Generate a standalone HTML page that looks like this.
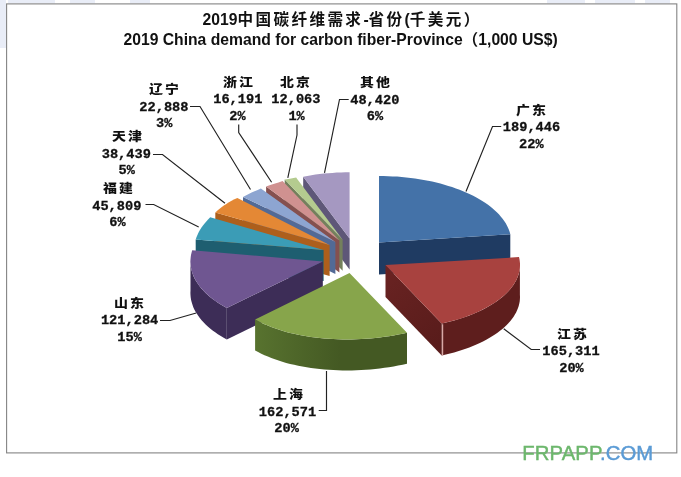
<!DOCTYPE html>
<html lang="zh"><head><meta charset="utf-8"><title>2019中国碳纤维需求-省份</title>
<style>
html,body{margin:0;padding:0;background:#fff;}
body{width:681px;height:477px;position:relative;overflow:hidden;font-family:"Liberation Sans","Noto Sans CJK SC",sans-serif;color:#111;}
#frame{display:none;}
svg{position:absolute;left:0;top:0;}
.t{position:absolute;white-space:nowrap;font-weight:bold;line-height:1;}
#t1{left:202.5px;top:12px;font-size:15.7px;}
#t1 .cj{font-size:15.6px;letter-spacing:2.4px;}
#t2{left:123.5px;top:32.2px;font-size:15.7px;}
.lb{position:absolute;width:100px;height:20px;line-height:20px;text-align:center;font-weight:bold;white-space:nowrap;}
.n{font-family:"Liberation Sans","Noto Sans CJK SC",sans-serif;font-weight:900;font-size:12.1px;letter-spacing:1.7px;text-indent:1.7px;transform:scaleX(1.15);}
.v,.p{font-family:"Liberation Mono","Noto Sans CJK SC",monospace;font-size:13.67px;-webkit-text-stroke:0.3px #111;}
#wm{position:absolute;left:522.3px;top:441.1px;font-size:20.3px;line-height:24px;white-space:nowrap;letter-spacing:0.1px;-webkit-text-stroke:0.45px currentColor;}
#wm .g{color:#6db76d;-webkit-text-stroke-color:#6db76d;} #wm .b{color:#5b9bd5;-webkit-text-stroke-color:#5b9bd5;}
</style></head><body>
<div id="frame"></div>
<svg width="681" height="477" viewBox="0 0 681 477">
<defs><linearGradient id="gw" gradientUnits="userSpaceOnUse" x1="254" y1="0" x2="340" y2="0"><stop offset="0" stop-color="#58732F"/><stop offset="1" stop-color="#445923"/></linearGradient><linearGradient id="rw" gradientUnits="userSpaceOnUse" x1="386" y1="270" x2="442" y2="340"><stop offset="0" stop-color="#692322"/><stop offset="1" stop-color="#591C1B"/></linearGradient></defs>
<g fill="#E9EDF7"><rect x="0" y="0" width="6" height="48"/><rect x="8" y="0" width="47" height="3.3"/><rect x="70" y="0" width="25" height="3.3"/><rect x="130" y="0" width="20" height="3.3"/><rect x="547" y="0" width="38" height="3.3"/><rect x="595" y="0" width="40" height="3.3"/><rect x="645" y="0" width="25" height="3.3"/></g>
<rect x="6.6" y="3.9" width="670.2" height="449" fill="#fff" stroke="#848484" stroke-width="1.1"/>
<!-- 其他 -->
<polygon points="349.6,238.6 303.2,176.7 303.2,207.7 349.6,269.6" fill="#5E5778"/>
<polygon points="349.6,238.6 303.2,176.7 307.3,175.9 311.4,175.2 315.5,174.6 319.7,174.1 323.9,173.6 328.1,173.2 332.4,172.9 336.7,172.6 341.0,172.4 345.3,172.3 349.6,172.3" fill="#A598C1"/>
<!-- 北京 -->
<polygon points="342.6,239.8 284.7,179.6 284.7,210.6 342.6,270.8" fill="#74805C"/>
<polygon points="342.6,239.8 284.7,179.6 288.5,178.9 292.3,178.2 296.1,177.6" fill="#B4CB8F"/>
<!-- 浙江 -->
<polygon points="339.4,240.6 266.1,186.5 266.1,218.5 339.4,272.6" fill="#85504F"/>
<polygon points="339.4,240.6 266.1,186.5 270.2,185.1 274.3,183.7 278.5,182.4 282.6,181.1" fill="#D09190"/>
<!-- 辽宁 -->
<polygon points="335.4,242.1 243.0,197.0 243.0,229.0 335.4,274.1" fill="#526A96"/>
<polygon points="335.4,242.1 243.0,197.0 245.8,195.5 248.7,194.0 251.6,192.6 254.6,191.2 257.7,189.9 260.9,188.5" fill="#8DA5D1"/>
<!-- 天津 -->
<polygon points="329.6,245.1 215.3,212.5 215.3,243.5 329.6,276.1" fill="#AD5F1C"/>
<polygon points="329.6,245.1 215.3,212.5 217.2,210.7 219.3,208.9 221.5,207.2 223.9,205.5 226.3,203.9 228.9,202.3 231.6,200.8 234.4,199.3 237.4,197.9" fill="#E48835"/>
<!-- 广东 -->
<polygon points="379.0,242.5 510.3,234.3 510.3,266.3 379.0,274.5" fill="#1F3B62"/>
<polygon points="379.0,242.5 379.0,176.0 383.6,176.0 388.1,176.2 392.7,176.4 397.2,176.6 401.7,177.0 406.2,177.4 410.6,177.9 415.0,178.5 419.4,179.2 423.7,179.9 428.0,180.7 432.2,181.6 436.3,182.6 440.4,183.6 444.4,184.7 448.3,185.9 452.1,187.1 455.9,188.4 459.6,189.8 463.1,191.2 466.6,192.7 470.0,194.2 473.2,195.8 476.4,197.5 479.4,199.2 482.3,201.0 485.1,202.8 487.7,204.6 490.3,206.5 492.7,208.5 494.9,210.5 497.1,212.5 499.1,214.6 500.9,216.7 502.6,218.8 504.2,220.9 505.6,223.1 506.8,225.3 507.9,227.5 508.9,229.8 509.7,232.0 510.3,234.3" fill="#4472A8"/>
<!-- 福建 -->
<polygon points="323.6,250.1 195.7,239.5 195.7,270.5 323.6,281.1" fill="#1E5E70"/>
<polygon points="323.6,250.1 195.7,239.5 196.4,237.4 197.2,235.4 198.1,233.4 199.2,231.3 200.4,229.3 201.7,227.3 203.2,225.2 204.8,223.2 206.5,221.2 208.3,219.3 210.2,217.3" fill="#3B9CB6"/>
<!-- 山东 -->
<polygon points="322.8,261.5 226.8,308.0 226.8,339.5 322.8,293.0" fill="#3D2D57"/>
<polygon points="226.8,308.0 223.7,306.3 220.8,304.5 217.9,302.7 215.2,300.8 212.6,298.9 210.1,296.9 207.8,294.9 205.6,292.9 203.5,290.8 201.6,288.7 199.8,286.5 198.2,284.3 196.7,282.1 195.4,279.9 194.2,277.7 193.2,275.4 192.4,273.1 191.7,270.8 191.1,268.5 190.7,266.1 190.5,263.8 190.4,261.5 190.5,259.1 190.5,290.6 190.4,293.0 190.5,295.3 190.7,297.6 191.1,300.0 191.7,302.3 192.4,304.6 193.2,306.9 194.2,309.2 195.4,311.4 196.7,313.6 198.2,315.8 199.8,318.0 201.6,320.2 203.5,322.3 205.6,324.4 207.8,326.4 210.1,328.4 212.6,330.4 215.2,332.3 217.9,334.2 220.8,336.0 223.7,337.8 226.8,339.5" fill="#3D2D57"/>
<polygon points="322.8,261.5 226.8,308.0 223.8,306.3 220.8,304.5 218.0,302.7 215.3,300.9 212.7,299.0 210.2,297.0 207.9,295.0 205.7,293.0 203.7,290.9 201.7,288.8 200.0,286.7 198.3,284.5 196.9,282.3 195.5,280.1 194.4,277.9 193.3,275.6 192.5,273.4 191.7,271.1 191.2,268.8 190.8,266.5 190.5,264.2 190.4,261.8 190.5,259.5 190.7,257.2 191.0,254.9 191.6,252.6 192.2,250.3" fill="#6F5691"/>
<!-- 江苏 -->
<polygon points="385.5,265.0 441.7,323.6 441.7,355.6 385.5,297.0" fill="url(#rw)"/>
<polygon points="519.9,262.7 520.0,265.0 519.9,267.2 519.7,269.4 519.3,271.6 518.7,273.9 518.0,276.1 517.1,278.2 516.1,280.4 514.9,282.6 513.6,284.7 512.1,286.8 510.4,288.9 508.6,291.0 506.7,293.0 504.6,295.0 502.4,296.9 500.0,298.8 497.5,300.7 494.9,302.5 492.1,304.3 489.2,306.1 486.2,307.8 483.0,309.4 479.8,311.0 476.4,312.5 472.9,314.0 469.3,315.4 465.7,316.8 461.9,318.1 458.0,319.3 454.1,320.5 450.0,321.6 445.9,322.6 441.7,323.6 441.7,355.6 445.9,354.6 450.0,353.6 454.1,352.5 458.0,351.3 461.9,350.1 465.7,348.8 469.3,347.4 472.9,346.0 476.4,344.5 479.8,343.0 483.0,341.4 486.2,339.8 489.2,338.1 492.1,336.3 494.9,334.5 497.5,332.7 500.0,330.8 502.4,328.9 504.6,327.0 506.7,325.0 508.6,323.0 510.4,320.9 512.1,318.8 513.6,316.7 514.9,314.6 516.1,312.4 517.1,310.2 518.0,308.1 518.7,305.9 519.3,303.6 519.7,301.4 519.9,299.2 520.0,297.0 519.9,294.7" fill="#5E1E1D"/>
<polygon points="385.5,265.0 519.0,257.1 519.5,259.2 519.8,261.4 520.0,263.6 520.0,265.8 519.9,268.0 519.6,270.2 519.1,272.4 518.5,274.6 517.7,276.8 516.8,278.9 515.8,281.1 514.5,283.2 513.2,285.3 511.6,287.4 510.0,289.4 508.2,291.5 506.2,293.5 504.1,295.4 501.9,297.3 499.5,299.2 497.0,301.1 494.4,302.9 491.6,304.6 488.7,306.3 485.7,308.0 482.6,309.6 479.4,311.2 476.0,312.7 472.6,314.2 469.0,315.5 465.4,316.9 461.7,318.2 457.8,319.4 453.9,320.5 449.9,321.6 445.9,322.6 441.7,323.6" fill="#A8423F"/>
<!-- 上海 -->
<polygon points="407.0,332.8 402.6,333.7 398.1,334.6 393.6,335.4 389.0,336.2 384.5,336.8 379.8,337.4 375.2,337.9 370.5,338.4 365.9,338.7 361.2,339.0 356.5,339.2 351.8,339.4 347.2,339.4 342.5,339.4 337.9,339.3 333.3,339.1 328.8,338.8 324.3,338.5 319.8,338.0 315.3,337.5 311.0,336.9 306.7,336.3 302.4,335.5 298.2,334.7 294.1,333.8 290.1,332.9 286.2,331.9 282.3,330.8 278.6,329.6 274.9,328.3 271.3,327.0 267.9,325.6 264.5,324.2 261.3,322.7 258.1,321.1 255.1,319.5 255.1,350.5 258.1,352.1 261.3,353.7 264.5,355.2 267.9,356.6 271.3,358.0 274.9,359.3 278.6,360.6 282.3,361.8 286.2,362.9 290.1,363.9 294.1,364.8 298.2,365.7 302.4,366.5 306.7,367.3 311.0,367.9 315.3,368.5 319.8,369.0 324.3,369.5 328.8,369.8 333.3,370.1 337.9,370.3 342.5,370.4 347.2,370.4 351.8,370.4 356.5,370.2 361.2,370.0 365.9,369.7 370.5,369.4 375.2,368.9 379.8,368.4 384.5,367.8 389.0,367.2 393.6,366.4 398.1,365.6 402.6,364.7 407.0,363.8" fill="url(#gw)"/>
<polygon points="349.5,273.0 407.0,332.8 402.6,333.7 398.1,334.6 393.6,335.4 389.0,336.2 384.5,336.8 379.8,337.4 375.2,337.9 370.5,338.4 365.9,338.7 361.2,339.0 356.5,339.2 351.8,339.4 347.2,339.4 342.5,339.4 337.9,339.3 333.3,339.1 328.8,338.8 324.3,338.5 319.8,338.0 315.3,337.5 311.0,336.9 306.7,336.3 302.4,335.5 298.2,334.7 294.1,333.8 290.1,332.9 286.2,331.9 282.3,330.8 278.6,329.6 274.9,328.3 271.3,327.0 267.9,325.6 264.5,324.2 261.3,322.7 258.1,321.1 255.1,319.5" fill="#87A54B"/>
<line x1="442.6" y1="324.3" x2="442.6" y2="355.8" stroke="#D8A8A6" stroke-width="1.2"/>
<polyline points="190.0,106.5 200.0,106.5 250.5,189.5" fill="none" stroke="#222" stroke-width="1.15"/>
<polyline points="153.0,154.5 162.5,154.5 225.0,203.3" fill="none" stroke="#222" stroke-width="1.15"/>
<polyline points="238.7,124.5 238.7,132.5 271.6,182.2" fill="none" stroke="#222" stroke-width="1.15"/>
<polyline points="297.0,124.5 297.0,135.0 287.8,177.8" fill="none" stroke="#222" stroke-width="1.15"/>
<polyline points="348.7,99.5 339.5,99.5 324.5,172.8" fill="none" stroke="#222" stroke-width="1.15"/>
<polyline points="501.2,126.5 492.5,126.5 466.0,191.5" fill="none" stroke="#222" stroke-width="1.15"/>
<polyline points="145.5,204.5 153.7,204.5 198.7,227.0" fill="none" stroke="#222" stroke-width="1.15"/>
<polyline points="160.0,320.5 170.0,320.5 196.2,313.0" fill="none" stroke="#222" stroke-width="1.15"/>
<polyline points="318.7,410.5 326.5,410.5 326.5,371.0" fill="none" stroke="#222" stroke-width="1.15"/>
<polyline points="540.0,349.5 531.2,349.5 503.7,328.7" fill="none" stroke="#222" stroke-width="1.15"/>
</svg>
<div class="t" id="t1">2019<span class="cj">中国碳纤维需求</span>-<span class="cj">省份</span>(<span class="cj">千美元）</span></div>
<div class="t" id="t2">2019 China demand for carbon fiber-Province（1,000 US$)</div>
<div class="lb n" style="left:480.6px;top:100.5px">广东</div>
<div class="lb v" style="left:481.5px;top:118.1px">189,446</div>
<div class="lb p" style="left:481.3px;top:134.5px">22%</div>
<div class="lb n" style="left:521.9px;top:324.5px">江苏</div>
<div class="lb v" style="left:521.0px;top:342.1px">165,311</div>
<div class="lb p" style="left:521.5px;top:358.5px">20%</div>
<div class="lb n" style="left:237.8px;top:385.3px">上海</div>
<div class="lb v" style="left:237.5px;top:402.8px">162,571</div>
<div class="lb p" style="left:236.6px;top:419.2px">20%</div>
<div class="lb n" style="left:79.0px;top:293.8px">山东</div>
<div class="lb v" style="left:79.6px;top:311.3px">121,284</div>
<div class="lb p" style="left:79.6px;top:327.7px">15%</div>
<div class="lb n" style="left:68.0px;top:179.3px">福建</div>
<div class="lb v" style="left:66.8px;top:196.8px">45,809</div>
<div class="lb p" style="left:67.5px;top:213.2px">6%</div>
<div class="lb n" style="left:76.6px;top:127.3px">天津</div>
<div class="lb v" style="left:76.3px;top:144.9px">38,439</div>
<div class="lb p" style="left:76.7px;top:161.3px">5%</div>
<div class="lb n" style="left:113.9px;top:80.0px">辽宁</div>
<div class="lb v" style="left:113.9px;top:97.6px">22,888</div>
<div class="lb p" style="left:114.2px;top:114.0px">3%</div>
<div class="lb n" style="left:187.5px;top:72.8px">浙江</div>
<div class="lb v" style="left:187.8px;top:90.3px">16,191</div>
<div class="lb p" style="left:187.4px;top:106.7px">2%</div>
<div class="lb n" style="left:245.2px;top:72.8px">北京</div>
<div class="lb v" style="left:245.9px;top:90.3px">12,063</div>
<div class="lb p" style="left:246.6px;top:106.7px">1%</div>
<div class="lb n" style="left:324.8px;top:73.4px">其他</div>
<div class="lb v" style="left:324.8px;top:91.0px">48,420</div>
<div class="lb p" style="left:324.9px;top:107.4px">6%</div>
<div id="wm"><span class="g">FRPAPP</span><span class="b">.COM</span></div>
</body></html>
